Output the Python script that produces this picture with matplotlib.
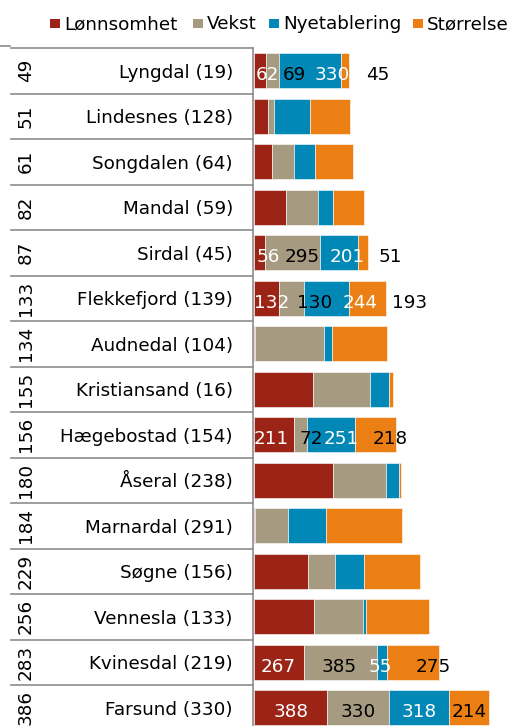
import matplotlib.pyplot as plt
from matplotlib.patches import Rectangle
from matplotlib.transforms import blended_transform_factory
import numpy as np

# Kommuner sortert etter samlet plassering
kommuner = ['Lyngdal (19)', 'Lindesnes (128)', 'Songdalen (64)', 'Mandal (59)',
            'Sirdal (45)', 'Flekkefjord (139)', 'Audnedal (104)', 'Kristiansand (16)',
            'Hægebostad (154)', 'Åseral (238)', 'Marnardal (291)', 'Søgne (156)',
            'Vennesla (133)', 'Kvinesdal (219)', 'Farsund (330)']
poeng = ['49', '51', '61', '82', '87', '133', '134', '155', '156', '180',
         '184', '229', '256', '283', '386']

lonnsomhet = [62, 75, 96, 169, 56, 132, 3, 312, 211, 419, 4, 286, 316, 267, 388]
vekst = [69, 32, 115, 170, 295, 130, 369, 303, 72, 282, 176, 144, 264, 385, 330]
nyetablering = [330, 192, 114, 80, 201, 244, 43, 103, 251, 69, 204, 154, 14, 55, 318]
storrelse = [45, 208, 201, 167, 51, 193, 291, 21, 218, 11, 405, 296, 337, 275, 214]

serier = ['Lønnsomhet', 'Vekst', 'Nyetablering', 'Størrelse']
farger = ['#9b2416', '#a69a80', '#0288b6', '#ec7f13']
tekstfarger = ['white', 'black', 'white', 'black']

# rader med verdietiketter, og hvor langt hver etikett er flyttet fra midten
etiketter = {
    'Lyngdal (19)': [39, 118, 118, 176],
    'Sirdal (45)': [47, 50, 44, 146],
    'Flekkefjord (139)': [27, 123, 179, 223],
    'Hægebostad (154)': [-16, 55, 54, 78],
    'Kvinesdal (219)': [-8, -7, -6, 108],
    'Farsund (330)': [0, 0, 0, 0],
}

W, H = 516, 726
fig = plt.figure(figsize=(W / 100, H / 100), dpi=100)
plt.rcParams['font.family'] = ['DejaVu Sans']
fs = 13.2

top = 48
pitch = 45.5
scale = 0.1878  # px per poeng
left = 252.6
ax = fig.add_axes([left / W, 0, 1 - left / W, 1 - top / H])
ax.set_xlim(-(254.3 - left) / scale, -(254.3 - left) / scale + (W - left) / scale)
ax.set_ylim((H - top) / pitch - 0.5, -0.5)

y = np.arange(len(kommuner))
data = np.array([lonnsomhet, vekst, nyetablering, storrelse])
start = np.zeros(len(kommuner))
for i in range(4):
    ax.barh(y, data[i], left=start, height=0.77, color=farger[i],
            edgecolor='white', linewidth=0.4)
    start = start + data[i]

# verdietiketter
for r, navn in enumerate(kommuner):
    if navn not in etiketter:
        continue
    cum = 0
    for i in range(4):
        v = data[i, r]
        xc = cum + v / 2 + etiketter[navn][i]
        ax.text(xc, r + 0.21, str(v), ha='center', va='baseline',
                color=tekstfarger[i], fontsize=fs, clip_on=False)
        cum += v

for s in ['top', 'right', 'bottom']:
    ax.spines[s].set_visible(False)
ax.spines['left'].set_color('#8c8c8c')
ax.spines['left'].set_linewidth(1.2)
ax.set_xticks([])
ax.set_yticks([])
ax.patch.set_alpha(0)

# kategoritabell til venstre
tr = blended_transform_factory(fig.transFigure, ax.transData)
for k in range(len(kommuner) + 1):
    ax.plot([11 / W, left / W], [k - 0.5, k - 0.5], transform=tr,
            color='#8c8c8c', lw=1.2, clip_on=False)
fig.add_artist(plt.Line2D([0, 10 / W], [1 - 45.5 / H, 1 - 45.5 / H],
                          color='#8c8c8c', lw=1.2))
for r, navn in enumerate(kommuner):
    ax.text(233 / W, r + 0.154, navn, transform=tr, ha='right', va='baseline',
            fontsize=fs, clip_on=False)
    ax.text(25.7 / W, r, poeng[r], transform=tr, ha='center', va='center',
            rotation=90, fontsize=fs, clip_on=False)

# tegnforklaring
leg_x = [50, 193, 269, 413]
for i in range(4):
    fig.add_artist(Rectangle((leg_x[i] / W, 1 - 28 / H), 9.5 / W, 9 / H,
                             transform=fig.transFigure, color=farger[i], lw=0))
    fig.text((leg_x[i] + 14) / W, 1 - 29.3 / H, serier[i], fontsize=fs,
             ha='left', va='baseline')

fig.savefig('out.png', dpi=100)
